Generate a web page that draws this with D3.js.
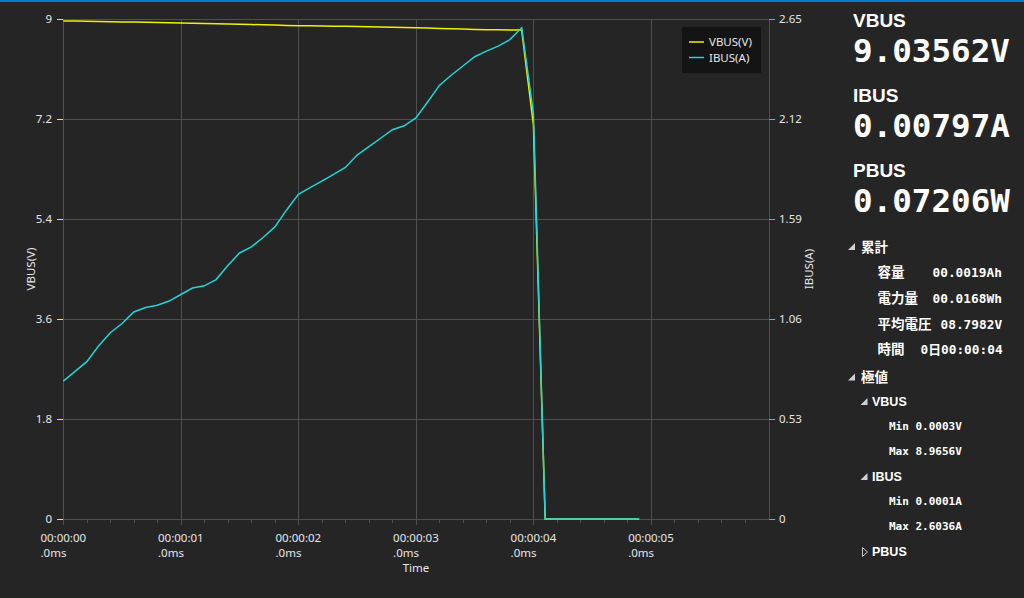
<!DOCTYPE html>
<html><head><meta charset="utf-8">
<script src="https://cdn.jsdelivr.net/npm/d3@7/dist/d3.min.js"></script>
<style>
html,body{margin:0;padding:0;background:#252526;overflow:hidden;}
svg{display:block;}
</style></head>
<body>
<svg id="c" width="1024" height="598"></svg>
<script>
// ---- data ----
const times = [0,0.1,0.2,0.3,0.4,0.5,0.6,0.7,0.8,0.9,1.0,1.1,1.2,1.3,1.4,1.5,1.6,1.7,1.8,1.9,2.0,2.1,2.2,2.3,2.4,2.5,2.6,2.7,2.8,2.9,3.0,3.1,3.2,3.3,3.4,3.5,3.6,3.7,3.8,3.9,4.0,4.1,4.2,4.3,4.4,4.5,4.6,4.7,4.8,4.9];
const vbus = [8.965,8.962,8.958,8.955,8.951,8.948,8.944,8.940,8.937,8.933,8.930,8.925,8.921,8.916,8.911,8.905,8.900,8.895,8.890,8.885,8.880,8.877,8.874,8.871,8.868,8.864,8.860,8.856,8.851,8.846,8.841,8.836,8.830,8.824,8.818,8.812,8.808,8.805,8.803,8.800,7.09,0.0003,0.0003,0.0003,0.0003,0.0003,0.0003,0.0003,0.0003,0.0003];
const ibus = [0.731,0.782,0.834,0.917,0.987,1.036,1.097,1.121,1.133,1.155,1.190,1.224,1.236,1.269,1.344,1.410,1.442,1.492,1.548,1.638,1.721,1.756,1.791,1.827,1.863,1.929,1.974,2.018,2.063,2.084,2.126,2.210,2.298,2.352,2.401,2.450,2.480,2.506,2.541,2.6036,2.15,0.0001,0.0001,0.0001,0.0001,0.0001,0.0001,0.0001,0.0001,0.0001];
const leftTicks = [0,1.8,3.6,5.4,7.2,9];
const rightTicks = [0,0.53,1.06,1.59,2.12,2.65];
const xMajor = [0,1,2,3,4,5];
const xLabels = ["00:00:00","00:00:01","00:00:02","00:00:03","00:00:04","00:00:05"];
const seriesNames = ["VBUS(V)","IBUS(A)"];
const panelTitles = ["VBUS","IBUS","PBUS"];
const panelValues = ["9.03562V","0.00797A","0.07206W"];
const accumLabels = ["容量","電力量","平均電圧","時間"];
const accumValues = ["00.0019Ah","00.0168Wh","08.7982V","0日00:00:04"];

// ---- layout ----
const svg = d3.select("#c");
const L=63.3, R=768.5, T=19, B=519;
const x = d3.scaleLinear().domain([0,6]).range([L,R]);
const yL = d3.scaleLinear().domain([0,9]).range([B,T]);
const yR = d3.scaleLinear().domain([0,2.65]).range([B,T]);
const YEL="#f2f200", CY="#1fd6d6", GRID="#4f4f4f", TXT="#e6e6e6";
const FONT="'Noto Sans', 'Open Sans', sans-serif";

svg.append("rect").attr("width",1024).attr("height",598).attr("fill","#252526");
svg.append("rect").attr("width",1024).attr("height",2).attr("fill","#0a7acc");

// grid
const g = svg.append("g");
g.selectAll(".hg").data(leftTicks).join("line")
  .attr("x1",L).attr("x2",R).attr("y1",d=>Math.round(yL(d))+0.5).attr("y2",d=>Math.round(yL(d))+0.5)
  .attr("stroke",GRID).attr("stroke-width",1);
g.selectAll(".vg").data(d3.range(0,7)).join("line")
  .attr("y1",T).attr("y2",B).attr("x1",d=>Math.round(x(d))+0.5).attr("x2",d=>Math.round(x(d))+0.5)
  .attr("stroke",GRID).attr("stroke-width",1);

// x ticks
const minor = d3.range(0,30).map(i=>i*0.2).filter(v=>Math.abs(v-Math.round(v))>1e-6);
g.selectAll(".mt").data(minor).join("line")
  .attr("x1",d=>Math.round(x(d))+0.5).attr("x2",d=>Math.round(x(d))+0.5)
  .attr("y1",B).attr("y2",B+4).attr("stroke",GRID);
g.selectAll(".Mt").data(xMajor).join("line")
  .attr("x1",d=>Math.round(x(d))+0.5).attr("x2",d=>Math.round(x(d))+0.5)
  .attr("y1",B).attr("y2",B+6).attr("stroke",GRID);

const xl = svg.append("g").attr("font-family",FONT).attr("font-size","11.5px").attr("fill",TXT);
xMajor.forEach((d,i)=>{
  const t = xl.append("text").attr("x",x(d)).attr("y",542).attr("text-anchor","middle").text(xLabels[i]);
  const w = t.node().getComputedTextLength();
  xl.append("text").attr("x",x(d)-w/2).attr("y",557).text(".0ms");
});
xl.append("text").attr("x",416).attr("y",572).attr("text-anchor","middle").text("Time");

// y axes
const yl = svg.append("g").attr("font-family",FONT).attr("font-size","11.5px").attr("fill",TXT);
leftTicks.forEach(d=>{
  yl.append("line").attr("x1",57).attr("x2",63).attr("y1",Math.round(yL(d))+0.5).attr("y2",Math.round(yL(d))+0.5).attr("stroke",YEL);
  yl.append("text").attr("x",52).attr("y",yL(d)).attr("dy","0.35em").attr("text-anchor","end").text(d);
});
rightTicks.forEach(d=>{
  yl.append("line").attr("x1",769).attr("x2",775).attr("y1",Math.round(yR(d))+0.5).attr("y2",Math.round(yR(d))+0.5).attr("stroke",CY);
  yl.append("text").attr("x",779).attr("y",yR(d)).attr("dy","0.35em").text(d);
});
yl.append("text").attr("transform","translate(35,269) rotate(-90)").attr("text-anchor","middle").text(seriesNames[0]);
yl.append("text").attr("transform","translate(813,269) rotate(-90)").attr("text-anchor","middle").text(seriesNames[1]);

// lines
const lineV = d3.line().x((d,i)=>x(times[i])).y(d=>yL(d));
const lineI = d3.line().x((d,i)=>x(times[i])).y(d=>yR(d));
svg.append("path").datum(vbus).attr("d",lineV).attr("fill","none").attr("stroke",YEL).attr("stroke-width",1.5);
svg.append("path").datum(ibus).attr("d",lineI).attr("fill","none").attr("stroke",CY).attr("stroke-width",1.5);

// legend
const lg = svg.append("g").attr("font-family",FONT).attr("font-size","11.5px").attr("fill",TXT);
lg.append("rect").attr("x",682).attr("y",27).attr("width",79).attr("height",46).attr("fill","#141414");
[[YEL,42],[CY,57.5]].forEach((c,i)=>{
  lg.append("line").attr("x1",689).attr("x2",704).attr("y1",c[1]).attr("y2",c[1]).attr("stroke",c[0]).attr("stroke-width",1.5);
  lg.append("text").attr("x",709).attr("y",c[1]).attr("dy","0.35em").text(seriesNames[i]);
});

// right panel
const p = svg.append("g").attr("fill","#ffffff");
const titleY=[27,102,177], valY=[62,137,212];
panelTitles.forEach((t,i)=>{
  p.append("text").attr("x",853).attr("y",titleY[i]).attr("font-family","'Liberation Sans', Arial, sans-serif").attr("font-weight","bold").attr("font-size","19px").text(t);
  p.append("text").attr("x",853).attr("y",valY[i]).attr("font-family","'DejaVu Sans Mono', monospace").attr("font-weight","bold").attr("font-size","32.6px").text(panelValues[i]);
});
const CJK="'Noto Sans CJK JP', 'Noto Sans', sans-serif";
const MONO="'DejaVu Sans Mono', 'Noto Sans CJK JP', monospace";
function tri(x0,yb){ // filled down-right triangle
  p.append("path").attr("d",`M${x0+7},${yb-7}L${x0+7},${yb}L${x0},${yb}Z`).attr("fill","#d0d0d0");
}
tri(848,250);
p.append("text").attr("x",861).attr("y",252).attr("font-family",CJK).attr("font-weight","bold").attr("font-size","13.5px").text("累計");
const accY=[277,302.5,328.5,354], accVX=[932.5,932.5,940.5,920.5];
accumLabels.forEach((t,i)=>{
  p.append("text").attr("x",877.5).attr("y",accY[i]).attr("font-family",CJK).attr("font-weight","bold").attr("font-size","13.5px").text(t);
  p.append("text").attr("x",accVX[i]).attr("y",accY[i]).attr("font-family",MONO).attr("font-weight","bold").attr("font-size","12.8px").text(accumValues[i]);
});
tri(848,380.5);
p.append("text").attr("x",861).attr("y",382).attr("font-family",CJK).attr("font-weight","bold").attr("font-size","13.5px").text("極値");
tri(860.5,405);
p.append("text").attr("x",872).attr("y",405.5).attr("font-family","'Liberation Sans', Arial, sans-serif").attr("font-weight","bold").attr("font-size","12.5px").text("VBUS");
p.append("text").attr("x",889).attr("y",429.5).attr("font-family",MONO).attr("font-weight","bold").attr("font-size","11px").text("Min 0.0003V");
p.append("text").attr("x",889).attr("y",454.5).attr("font-family",MONO).attr("font-weight","bold").attr("font-size","11px").text("Max 8.9656V");
tri(860.5,480);
p.append("text").attr("x",872).attr("y",480.5).attr("font-family","'Liberation Sans', Arial, sans-serif").attr("font-weight","bold").attr("font-size","12.5px").text("IBUS");
p.append("text").attr("x",889).attr("y",504.5).attr("font-family",MONO).attr("font-weight","bold").attr("font-size","11px").text("Min 0.0001A");
p.append("text").attr("x",889).attr("y",529.5).attr("font-family",MONO).attr("font-weight","bold").attr("font-size","11px").text("Max 2.6036A");
p.append("path").attr("d","M862.5,547.5L867.5,552L862.5,556.5Z").attr("fill","none").attr("stroke","#c8c8c8").attr("stroke-width",1);
p.append("text").attr("x",872).attr("y",556).attr("font-family","'Liberation Sans', Arial, sans-serif").attr("font-weight","bold").attr("font-size","12.5px").text("PBUS");
</script>
</body></html>
